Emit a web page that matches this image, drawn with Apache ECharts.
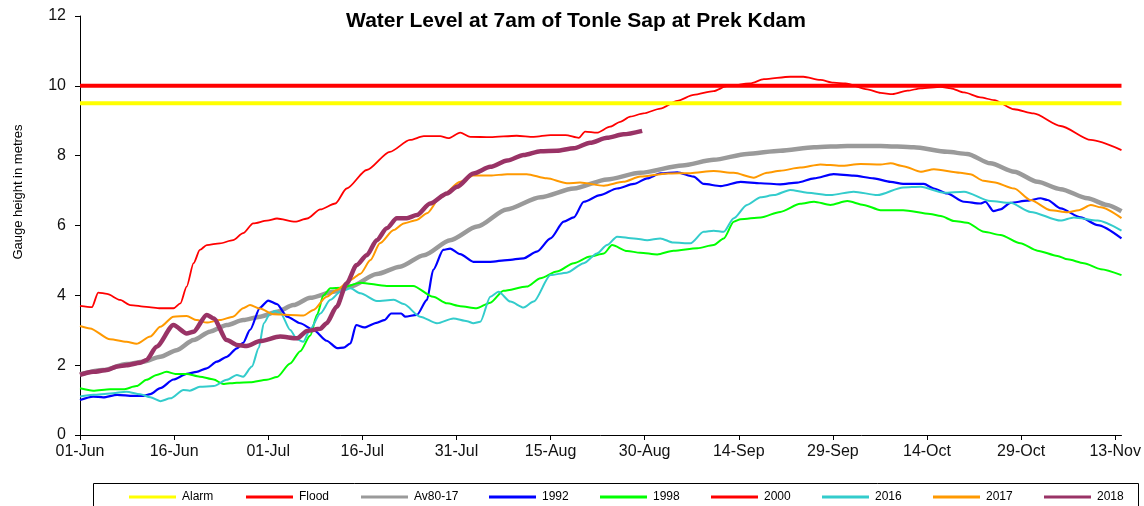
<!DOCTYPE html>
<html>
<head>
<meta charset="utf-8">
<script src="https://cdn.jsdelivr.net/npm/echarts@6/dist/echarts.min.js"></script>
<style>
html,body{margin:0;padding:0;background:#fff;}
#chart{width:1144px;height:506px;}
</style>
</head>
<body>
<div id="chart"></div>
<script>
// x = days since 01-Jun, y = gauge height (m)
var tickLabels = ['01-Jun','16-Jun','01-Jul','16-Jul','31-Jul','15-Aug','30-Aug','14-Sep','29-Sep','14-Oct','29-Oct','13-Nov'];
var lastDay = 166;
var alarmLevel = 9.5;
var floodLevel = 10;

var av8017 = [[0,1.74],[3.7,1.86],[7.4,2.03],[10.1,2.10],[12.8,2.24],[15.4,2.43],[18.1,2.72],[20.7,2.96],[23.4,3.15],[26,3.29],[28.7,3.39],[31.4,3.53],[34,3.72],[36.7,3.93],[40.4,4.10],[43.1,4.25],[47.3,4.61],[51,4.82],[54.8,5.15],[59,5.58],[63.3,5.97],[68,6.46],[73.4,6.81],[78.7,7.06],[84,7.32],[89.3,7.51],[96,7.72],[101,7.88],[106.3,8.05],[111.6,8.14],[117,8.24],[122.3,8.28],[127.6,8.28],[132.9,8.24],[138.2,8.11],[141.4,8.05],[145.1,7.78],[148.9,7.54],[152.6,7.25],[156.3,7.04],[160.6,6.78],[163.7,6.59],[166,6.41]];

var y1992 = [[0,1.00],[2.1,1.10],[3.7,1.08],[5.9,1.15],[8.5,1.12],[10.1,1.12],[11.2,1.17],[12.8,1.34],[14.9,1.59],[17,1.75],[18.6,1.81],[20.2,1.91],[21.8,2.10],[23.4,2.24],[25,2.48],[26,2.64],[27.1,3.01],[28.7,3.65],[30,3.85],[31.4,3.75],[33,3.39],[35.1,3.20],[37.2,3.01],[39.3,2.70],[41,2.49],[42,2.50],[43.1,2.62],[44,3.15],[45.3,3.08],[47.4,3.22],[48.5,3.29],[49.6,3.48],[51.2,3.48],[51.8,3.39],[53.7,3.44],[55.3,3.87],[56.3,4.73],[57.9,5.30],[59,5.34],[60.6,5.18],[62.7,4.96],[65.4,4.96],[68.1,5.01],[70.7,5.06],[72.8,5.25],[75,5.63],[77.1,6.11],[78.7,6.23],[80.3,6.68],[82.9,6.87],[85.6,7.06],[88.3,7.19],[90.4,7.35],[92.5,7.49],[95.2,7.52],[97.8,7.40],[99.4,7.19],[102.1,7.13],[105.3,7.25],[108.5,7.21],[111.6,7.18],[114.3,7.23],[117,7.35],[120.1,7.47],[123.3,7.43],[126.5,7.35],[129.2,7.25],[131.2,7.19],[134.5,7.19],[136.1,7.06],[138.2,6.92],[140.9,6.68],[143.5,6.63],[144.3,6.68],[145.6,6.41],[146.7,6.46],[148.3,6.65],[151,6.71],[153.1,6.78],[154.2,6.73],[156.3,6.49],[159.5,6.23],[162.2,6.01],[166,5.63]];

var y1998 = [[0,1.34],[2.1,1.27],[4.8,1.31],[6.9,1.31],[9,1.40],[10.6,1.58],[12.2,1.72],[13.8,1.81],[15.2,1.75],[17,1.75],[19.1,1.67],[21.3,1.59],[22.8,1.46],[25,1.50],[27.1,1.51],[29.8,1.58],[31.4,1.66],[33.5,2.05],[35.1,2.40],[36.7,2.85],[37.8,3.45],[38.8,4.00],[39.9,4.20],[41.7,4.22],[44.7,4.36],[48.9,4.27],[53.1,4.27],[56.3,3.96],[58.5,3.77],[60.6,3.69],[63.2,3.63],[65.4,3.79],[67.5,4.13],[71.2,4.25],[73.4,4.49],[76,4.68],[78.7,4.92],[81.3,5.11],[83.5,5.20],[84.8,5.44],[87.2,5.27],[89.3,5.22],[92,5.17],[94.6,5.28],[98.4,5.35],[101,5.44],[102.6,5.63],[104.2,6.11],[105.3,6.18],[108.5,6.23],[111.6,6.39],[114.8,6.62],[117,6.68],[119.6,6.59],[122.3,6.70],[124.9,6.59],[127.6,6.44],[131.2,6.44],[135.5,6.33],[137.2,6.27],[139.3,6.13],[141.4,6.08],[144.1,5.82],[146.7,5.73],[149.9,5.49],[152.6,5.28],[155.8,5.13],[157.4,5.03],[160,4.92],[162.7,4.75],[166,4.58]];

var y2000 = [[0,3.70],[1.9,3.66],[2.9,4.08],[4.3,4.04],[6.4,3.87],[8,3.72],[10.6,3.67],[12.8,3.63],[14.9,3.63],[16,3.77],[17,4.25],[18.1,4.92],[19.1,5.30],[20.2,5.44],[22.3,5.49],[24.4,5.58],[26,5.78],[27.6,6.06],[29.8,6.14],[31.4,6.20],[34.3,6.11],[36.2,6.20],[38.3,6.46],[40.7,6.63],[42.5,7.06],[45.7,7.59],[49.4,8.11],[52.6,8.45],[54.8,8.56],[57.4,8.56],[58.7,8.50],[60.6,8.66],[62.2,8.54],[65.4,8.53],[69.6,8.57],[72.3,8.54],[75,8.59],[77.4,8.59],[79.5,8.51],[80.5,8.69],[82.4,8.66],[84.5,8.83],[86.1,8.97],[87.7,9.12],[89.8,9.21],[92.5,9.35],[95.2,9.57],[97.8,9.74],[101,9.85],[103.1,9.99],[106.8,10.07],[109,10.19],[113.2,10.26],[115.3,10.26],[118,10.17],[120.1,10.09],[122,10.07],[125.5,9.90],[127.6,9.80],[129.5,9.76],[131.9,9.86],[134,9.93],[137.2,9.97],[138.8,9.93],[140.9,9.81],[143.5,9.67],[145.7,9.59],[148.9,9.33],[152,9.21],[156.3,8.85],[161.1,8.45],[166,8.16]];

var y2016 = [[0,1.10],[2.1,1.15],[4.8,1.19],[7.4,1.24],[9.6,1.17],[11.2,1.08],[12.8,0.97],[14.4,1.05],[16.5,1.29],[17.5,1.27],[19.1,1.38],[21.3,1.40],[23.4,1.58],[25,1.72],[26,1.67],[27.4,1.96],[28.5,2.50],[29.3,3.20],[30.3,3.48],[31.1,3.55],[32,3.48],[33.5,3.01],[34.6,2.74],[35.6,2.67],[36.7,3.03],[38.3,3.48],[39.9,3.87],[41.5,4.10],[43.1,4.20],[44.7,4.06],[47.3,3.84],[50,3.87],[51.6,3.75],[54.2,3.39],[56.9,3.20],[59.5,3.34],[61.7,3.26],[62.7,3.20],[63.8,3.24],[65.4,3.96],[66.7,4.10],[68.6,3.82],[70.7,3.65],[72.3,3.82],[75,4.58],[77.6,4.65],[80.3,4.92],[82.4,5.20],[84,5.44],[85.6,5.68],[88.3,5.63],[90.4,5.58],[92.5,5.63],[94.6,5.51],[97.3,5.49],[99.4,5.82],[101,5.85],[102.6,5.82],[104.2,6.21],[106.3,6.59],[108.5,6.81],[110.6,6.87],[113.2,7.02],[115.9,6.94],[119.6,6.87],[123.3,6.97],[127.1,6.87],[131.2,7.09],[134,7.11],[137.7,6.94],[140.9,6.97],[145.1,6.70],[148.3,6.65],[151.5,6.39],[156.3,6.14],[158.4,6.23],[162.2,6.14],[166,5.85]];

var y2017 = [[0,3.12],[1.6,3.05],[4.8,2.74],[7.4,2.67],[9,2.61],[11.2,2.82],[12.8,3.10],[14.9,3.39],[17,3.41],[18.6,3.29],[20.2,3.22],[22.3,3.29],[24.4,3.39],[26,3.63],[27.1,3.72],[28.7,3.62],[30.8,3.46],[33.5,3.44],[35.6,3.42],[37.2,3.58],[39.3,3.96],[40.9,4.15],[43.1,4.44],[44.7,4.62],[46.3,5.01],[47.8,5.49],[50,5.87],[51.6,6.06],[53.7,6.16],[55.3,6.35],[57.4,6.80],[60.6,7.25],[62.7,7.43],[65.4,7.43],[68.1,7.47],[71.2,7.47],[74.4,7.35],[77.6,7.21],[79.7,7.23],[83.5,7.14],[86.6,7.25],[89.3,7.40],[93.6,7.49],[97.3,7.50],[101,7.56],[104.2,7.51],[107.4,7.37],[109.5,7.51],[111.6,7.57],[114.8,7.66],[118,7.75],[121.2,7.71],[124.4,7.76],[127.6,7.75],[129.2,7.78],[131.2,7.70],[134,7.54],[136.1,7.61],[140.3,7.51],[141.9,7.47],[144,7.28],[145.6,7.24],[148.9,7.06],[151.5,6.73],[154.7,6.44],[157.4,6.38],[159.2,6.44],[161.1,6.59],[162.7,6.52],[166,6.21]];

var y2018 = [[0,1.72],[2.1,1.81],[4.3,1.86],[5.9,1.96],[7.4,2.00],[9.6,2.07],[10.6,2.15],[12.2,2.53],[14.9,3.15],[17,2.91],[18.1,2.96],[20.2,3.44],[21.3,3.34],[23.4,2.72],[25,2.58],[26.6,2.55],[28.7,2.69],[31.9,2.82],[34.6,2.77],[36.2,2.98],[38.3,3.04],[39.3,3.20],[40.9,3.67],[42.5,4.34],[44.1,4.87],[45.7,5.15],[47.3,5.58],[48.9,5.92],[50.5,6.21],[52.1,6.21],[53.7,6.30],[55.8,6.63],[58.5,6.92],[60.1,7.11],[62.7,7.49],[65.4,7.68],[68.1,7.86],[70.7,8.02],[73.4,8.13],[76,8.14],[78.7,8.21],[81.3,8.37],[84,8.51],[86.6,8.61],[89.6,8.71]];

var legendNames = ['Alarm','Flood','Av80-17','1992','1998','2000','2016','2017','2018'];
var legendLeft = [124, 241, 356, 484, 595, 706, 817, 928, 1039];

var chart = echarts.init(document.getElementById('chart'));

function line(name, data, color, width, z) {
  return {
    name: name, type: 'line', data: data, symbol: 'none', smooth: 0.25,
    smoothMonotone: 'x', z: z || 2, silent: true,
    lineStyle: { color: color, width: width },
    itemStyle: { color: color }
  };
}

var legends = legendNames.map(function (n, i) {
  return {
    data: [n], left: legendLeft[i], top: 486, icon: 'rect', itemWidth: 47, itemHeight: 3,
    itemGap: 0, selectedMode: false,
    textStyle: { fontFamily: 'Arial', fontSize: 12, color: '#000', padding: [0, 0, 0, 1] }
  };
});

var option = {
  animation: false,
  title: {
    text: 'Water Level at 7am of Tonle Sap at Prek Kdam',
    left: 571, top: 6, textAlign: 'center',
    textStyle: { fontFamily: 'Arial', fontWeight: 'bold', fontSize: 21, color: '#000' }
  },
  legend: legends,
  grid: { left: 80, right: 22, top: 16, bottom: 71, containLabel: false },
  xAxis: {
    type: 'value', min: 0, max: lastDay, interval: 15,
    splitLine: { show: false },
    axisLine: { lineStyle: { color: '#000', width: 1 } },
    axisTick: { length: 5, lineStyle: { color: '#000' },
      customValues: tickLabels.map(function (t, i) { return i * 15; }) },
    axisLabel: {
      fontFamily: 'Arial', fontSize: 16, color: '#111', margin: 9,
      customValues: tickLabels.map(function (t, i) { return i * 15; }),
      formatter: function (v) { return v % 15 === 0 ? (tickLabels[v / 15] || '') : ''; }
    }
  },
  yAxis: {
    type: 'value', min: 0, max: 12, interval: 2,
    splitLine: { show: false },
    axisLine: { show: true, lineStyle: { color: '#000', width: 1 } },
    axisTick: { show: true, length: 5, lineStyle: { color: '#000' } },
    axisLabel: { fontFamily: 'Arial', fontSize: 16, color: '#111', margin: 14 }
  },
  graphic: [
    { type: 'text', x: 18, y: 192, rotation: Math.PI / 2,
      style: { text: 'Gauge height in metres', font: '13px Arial', fill: '#000',
        textAlign: 'center', textVerticalAlign: 'middle' } },
    { type: 'rect', shape: { x: 93.5, y: 483.5, width: 1045, height: 40 },
      style: { fill: 'none', stroke: '#000', lineWidth: 1 } }
  ],
  series: [
    line('Alarm', [[0, alarmLevel], [lastDay, alarmLevel]], '#ffff00', 4, 3),
    line('Flood', [[0, floodLevel], [lastDay, floodLevel]], '#ff0000', 4, 3),
    line('Av80-17', av8017, '#9a9a9a', 4.5),
    line('1992', y1992, '#0000ff', 2.2),
    line('1998', y1998, '#00ff00', 2),
    line('2000', y2000, '#ff0000', 1.8),
    line('2016', y2016, '#33cccc', 2),
    line('2017', y2017, '#ff9900', 2),
    line('2018', y2018, '#993366', 4.5)
  ]
};
chart.setOption(option);
</script>
</body>
</html>
